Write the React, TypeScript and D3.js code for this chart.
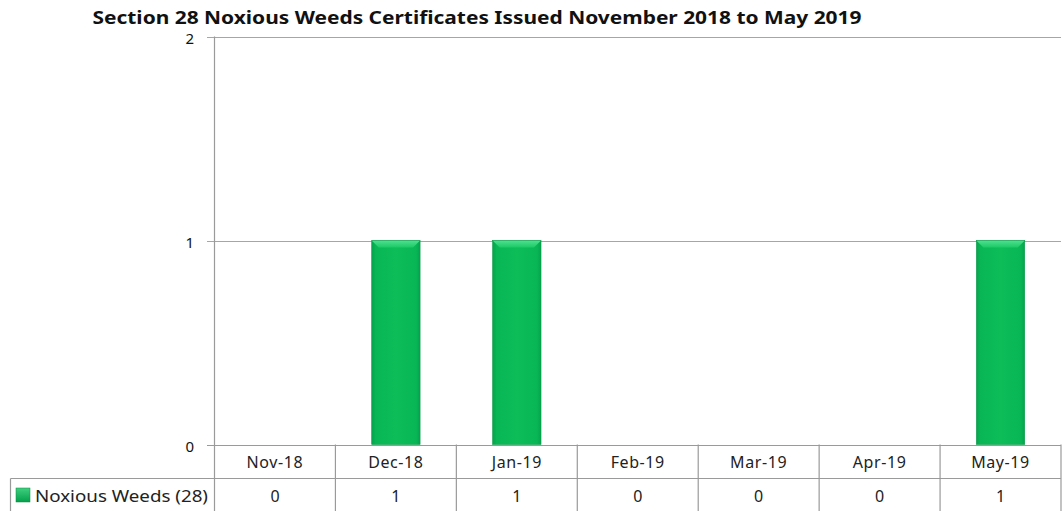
import React from "react";
import * as d3 from "d3";

const title = "Section 28 Noxious Weeds Certificates Issued November 2018 to May 2019";
const categories = ["Nov-18", "Dec-18", "Jan-19", "Feb-19", "Mar-19", "Apr-19", "May-19"];
const seriesName = "Noxious Weeds (28)";
const values = [0, 1, 1, 0, 0, 0, 1];
const yTicks = [0, 1, 2];

const W = 1062;
const H = 511;
const plotLeft = 214.5;
const plotRight = 1061;
const plotTop = 36.5;
const plotBottom = 444.5;
const rowMid = 478.5;
const tableBottom = 511;
const tableLeft = 10.5;
const font = "Noto Sans, Open Sans, sans-serif";
const gridColor = "#a6a6a6";
const lineColor = "#9a9a9a";

export default function App() {
  const x = d3.scaleBand<string>().domain(categories).range([plotLeft, plotRight]).padding(0);
  const y = d3.scaleLinear().domain([0, 2]).range([plotBottom, plotTop]);
  const bw = x.bandwidth();
  const barW = bw * 0.4;

  return (
    <svg
      width={W}
      height={H}
      style={{ position: "absolute", left: 0, top: 0, background: "#fff" }}
      fontFamily={font}
    >
      <defs>
        <linearGradient id="barH" x1="0" x2="1" y1="0" y2="0">
          <stop offset="0" stopColor="#05a34d" />
          <stop offset="0.08" stopColor="#08b655" />
          <stop offset="0.5" stopColor="#0cbd58" />
          <stop offset="0.92" stopColor="#08b655" />
          <stop offset="1" stopColor="#05a34d" />
        </linearGradient>
        <linearGradient id="bevel" x1="0" x2="0" y1="0" y2="1">
          <stop offset="0" stopColor="#4fe08f" />
          <stop offset="1" stopColor="#1cc965" />
        </linearGradient>
        <linearGradient id="key" x1="0" x2="0" y1="0" y2="1">
          <stop offset="0" stopColor="#3fd07f" />
          <stop offset="1" stopColor="#04a04b" />
        </linearGradient>
      </defs>

      <text
        x={477}
        y={23.5}
        textAnchor="middle"
        fontWeight="bold"
        fontSize={17}
        fill="#111"
        textLength={769}
        lengthAdjust="spacingAndGlyphs"
      >
        {title}
      </text>

      {/* gridlines & ticks */}
      {yTicks.map((t) => (
        <g key={t}>
          <line x1={207} x2={plotRight} y1={Math.round(y(t)) + 0.5} y2={Math.round(y(t)) + 0.5} stroke={t === 0 ? lineColor : gridColor} strokeWidth={1.2} />
          <text x={194} y={y(t) + 7} textAnchor="end" fontSize={15} fill="#111">
            {t}
          </text>
        </g>
      ))}

      {/* y axis */}
      <line x1={plotLeft} x2={plotLeft} y1={plotTop} y2={tableBottom} stroke={lineColor} strokeWidth={1.2} />

      {/* bars */}
      {categories.map((c, i) => {
        const v = values[i];
        if (!v) return null;
        const bx = (x(c) as number) + (bw - barW) / 2;
        const by = y(v);
        const bh = y(0) - by;
        const bev = 7;
        return (
          <g key={c}>
            <rect x={bx} y={by} width={barW} height={bh} fill="url(#barH)" />
            <polygon
              points={`${bx},${by} ${bx + barW},${by} ${bx + barW - bev},${by + bev} ${bx + bev},${by + bev}`}
              fill="url(#bevel)"
            />
            <rect x={bx} y={by} width={barW} height={bh} fill="none" stroke="#0a9a48" strokeWidth={0.6} />
          </g>
        );
      })}

      {/* table */}
      <line x1={tableLeft} x2={plotRight} y1={rowMid} y2={rowMid} stroke={lineColor} strokeWidth={1.2} />
      <line x1={tableLeft} x2={tableLeft} y1={rowMid} y2={tableBottom} stroke={lineColor} strokeWidth={1.2} />
      {categories.map((c) => (
        <line
          key={"v" + c}
          x1={(x(c) as number) + bw}
          x2={(x(c) as number) + bw}
          y1={plotBottom}
          y2={tableBottom}
          stroke={lineColor}
          strokeWidth={1.2}
        />
      ))}
      {categories.map((c, i) => (
        <g key={"t" + c}>
          <text x={(x(c) as number) + bw / 2} y={468} textAnchor="middle" fontSize={16} letterSpacing={0.6} fill="#222">
            {c}
          </text>
          <text x={(x(c) as number) + bw / 2} y={502} textAnchor="middle" fontSize={16} fill="#222">
            {values[i]}
          </text>
        </g>
      ))}
      <rect x={16} y={488} width={14} height={14} fill="url(#key)" stroke="#0a8a40" strokeWidth={0.5} />
      <text x={35} y={502} fontSize={16} fill="#222" textLength={173} lengthAdjust="spacingAndGlyphs">
        {seriesName}
      </text>
    </svg>
  );
}
